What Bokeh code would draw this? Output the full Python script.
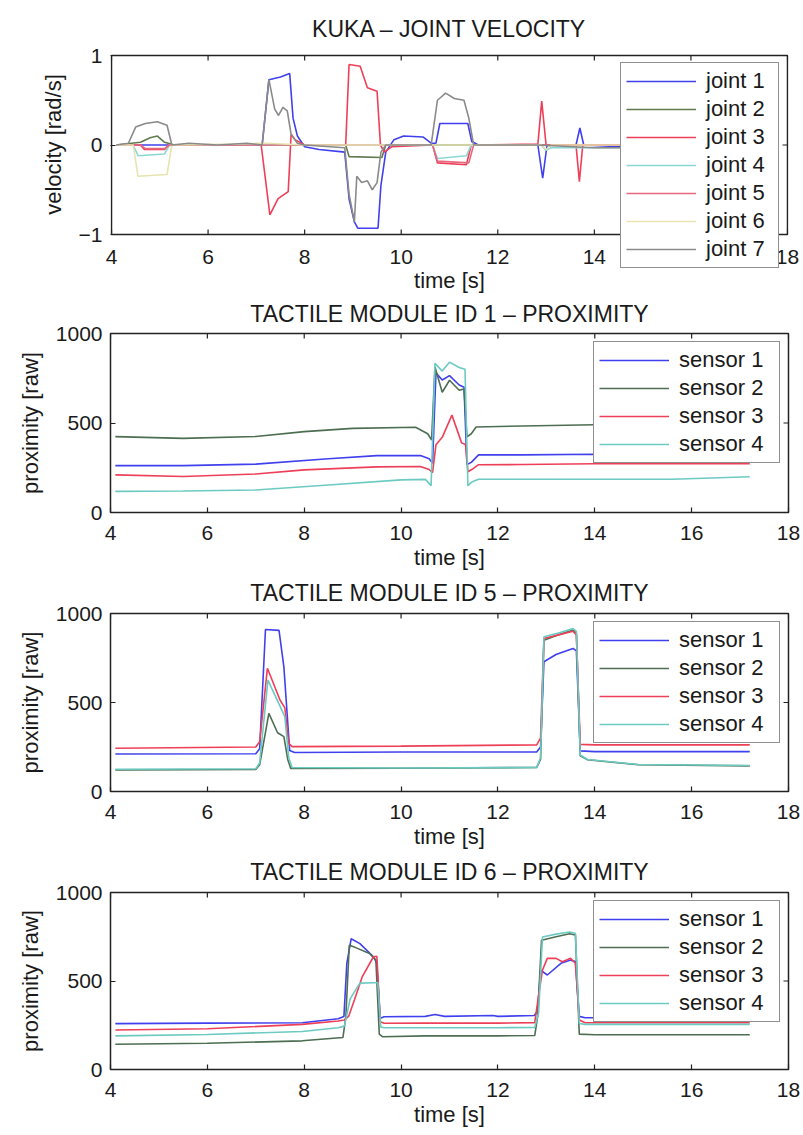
from bokeh.plotting import figure
from bokeh.models import Legend, LegendItem, FixedTicker, CustomJSTickFormatter, Range1d
from bokeh.core.properties import value
from bokeh.layouts import column
from bokeh.embed import file_html
from bokeh.resources import INLINE

# ---------------- data ----------------
# KUKA joint velocity [rad/s]
j1_t = [4.10, 7.12, 7.26, 7.50, 7.69, 7.76, 7.85, 8.00, 8.30, 8.83, 8.92, 9.03, 9.10, 9.52, 9.58, 9.68, 9.85, 10.05, 10.45, 10.62, 10.72, 10.80, 11.38, 11.46, 11.60, 12.83, 12.93, 13.02, 13.62, 13.70, 13.78, 14.50, 17.20]
j1_v = [0.00, 0.00, 0.73, 0.76, 0.80, 0.30, 0.10, -0.02, -0.05, -0.08, -0.60, -0.86, -0.93, -0.93, -0.45, -0.08, 0.06, 0.10, 0.09, 0.02, 0.02, 0.24, 0.24, 0.04, 0.00, 0.00, -0.37, 0.00, 0.00, 0.19, 0.00, -0.02, -0.02]
j2_t = [4.10, 4.60, 4.80, 4.95, 5.10, 5.30, 8.85, 8.92, 9.60, 9.68, 17.20]
j2_v = [0.00, 0.03, 0.08, 0.10, 0.03, 0.00, 0.00, -0.13, -0.14, 0.00, 0.00]
j3_t = [4.10, 4.60, 4.68, 5.10, 5.18, 7.10, 7.28, 7.45, 7.66, 7.72, 7.80, 8.00, 8.85, 8.92, 9.15, 9.30, 9.50, 9.57, 9.65, 9.80, 10.65, 10.75, 11.35, 11.45, 12.83, 12.91, 13.00, 13.62, 13.69, 13.76, 17.20]
j3_v = [0.00, 0.00, -0.05, -0.05, 0.00, 0.00, -0.78, -0.60, -0.52, 0.12, 0.06, 0.00, 0.00, 0.90, 0.88, 0.64, 0.60, 0.00, -0.08, -0.02, 0.00, -0.20, -0.22, 0.00, 0.01, 0.49, 0.00, 0.00, -0.41, 0.00, 0.00]
j4_t = [4.10, 4.45, 4.55, 5.10, 5.20, 10.65, 10.75, 11.35, 11.45, 12.90, 13.00, 13.10, 17.20]
j4_v = [0.00, 0.00, -0.12, -0.10, 0.00, 0.00, -0.15, -0.12, 0.00, 0.00, -0.06, -0.03, -0.03]
j5_t = [4.10, 4.60, 4.70, 5.10, 5.20, 10.65, 10.75, 11.40, 11.50, 17.20]
j5_v = [0.00, 0.00, -0.04, -0.04, 0.00, 0.00, -0.18, -0.20, 0.00, 0.00]
j6_t = [4.10, 4.45, 4.55, 5.15, 5.25, 6.50, 7.20, 8.00, 12.90, 13.00, 13.10, 17.20]
j6_v = [0.00, 0.00, -0.35, -0.33, 0.00, 0.01, 0.02, 0.00, 0.00, -0.05, 0.00, 0.00]
j7_t = [4.10, 4.35, 4.50, 4.70, 4.95, 5.15, 5.25, 5.60, 6.20, 6.80, 7.12, 7.26, 7.38, 7.46, 7.55, 7.64, 7.72, 7.85, 8.00, 8.83, 8.92, 9.03, 9.08, 9.18, 9.30, 9.40, 9.50, 9.58, 9.68, 10.62, 10.75, 10.92, 11.10, 11.30, 11.40, 11.50, 12.80, 14.00, 17.20]
j7_v = [0.00, 0.02, 0.20, 0.24, 0.26, 0.22, 0.00, 0.02, 0.00, 0.02, 0.00, 0.73, 0.40, 0.33, 0.42, 0.38, 0.12, 0.02, 0.00, -0.03, -0.55, -0.86, -0.35, -0.42, -0.40, -0.50, -0.42, -0.08, 0.00, 0.00, 0.50, 0.58, 0.52, 0.50, 0.30, 0.00, 0.00, -0.03, -0.03]

# Tactile module ID 1 - proximity [raw]
m1_s1_t = [4.10, 5.50, 7.00, 8.50, 9.50, 10.40, 10.58, 10.65, 10.72, 10.85, 11.00, 11.20, 11.30, 11.36, 11.45, 11.60, 12.50, 14.00, 17.20]
m1_s1_v = [262, 262, 270, 300, 318, 318, 300, 275, 780, 740, 765, 712, 700, 268, 280, 322, 322, 325, 325]
m1_s2_t = [4.10, 5.50, 7.00, 8.00, 9.00, 10.30, 10.55, 10.63, 10.70, 10.85, 11.00, 11.20, 11.30, 11.36, 11.45, 11.55, 12.50, 14.00, 17.20]
m1_s2_v = [424, 414, 425, 452, 470, 476, 440, 405, 813, 672, 739, 683, 690, 422, 440, 478, 483, 490, 495]
m1_s3_t = [4.10, 5.50, 7.00, 8.00, 9.50, 10.40, 10.58, 10.65, 10.72, 10.85, 11.05, 11.25, 11.33, 11.38, 11.46, 11.60, 12.50, 14.00, 17.20]
m1_s3_v = [210, 201, 215, 238, 255, 257, 240, 222, 378, 420, 544, 389, 380, 228, 240, 267, 268, 272, 272]
m1_s4_t = [4.10, 5.50, 7.00, 8.50, 10.00, 10.50, 10.62, 10.70, 10.85, 11.00, 11.20, 11.32, 11.38, 11.46, 11.60, 14.00, 15.60, 17.20]
m1_s4_v = [118, 120, 126, 154, 182, 185, 150, 833, 790, 840, 810, 800, 150, 170, 186, 186, 186, 200]

# Tactile module ID 5 - proximity [raw]
m5_s1_t = [4.10, 7.00, 7.08, 7.20, 7.48, 7.58, 7.70, 7.80, 10.00, 12.80, 12.88, 12.95, 13.20, 13.55, 13.62, 13.70, 14.00, 17.20]
m5_s1_v = [211, 212, 240, 910, 905, 700, 230, 219, 222, 222, 250, 729, 770, 804, 790, 228, 224, 224]
m5_s2_t = [4.10, 7.00, 7.08, 7.27, 7.45, 7.58, 7.66, 7.72, 10.00, 12.80, 12.88, 12.95, 13.25, 13.55, 13.62, 13.70, 13.85, 14.90, 17.20]
m5_s2_v = [121, 124, 150, 439, 330, 308, 180, 130, 131, 135, 180, 850, 880, 907, 890, 200, 178, 150, 144]
m5_s3_t = [4.10, 7.00, 7.08, 7.24, 7.50, 7.60, 7.68, 7.75, 10.00, 12.80, 12.88, 12.95, 13.25, 13.55, 13.62, 13.70, 14.00, 17.20]
m5_s3_v = [243, 250, 280, 692, 514, 470, 270, 252, 255, 262, 300, 860, 880, 900, 880, 265, 262, 262]
m5_s4_t = [4.10, 7.00, 7.08, 7.25, 7.50, 7.60, 7.68, 7.75, 10.00, 12.80, 12.88, 12.95, 13.25, 13.55, 13.62, 13.70, 13.85, 14.90, 17.20]
m5_s4_v = [125, 128, 160, 626, 480, 420, 190, 135, 132, 135, 190, 869, 890, 915, 900, 205, 180, 152, 146]

# Tactile module ID 6 - proximity [raw]
m6_s1_t = [4.10, 6.00, 7.96, 8.70, 8.82, 8.88, 8.97, 9.15, 9.43, 9.50, 9.57, 9.65, 10.50, 10.70, 10.90, 11.90, 12.00, 12.75, 12.82, 12.88, 13.02, 13.30, 13.50, 13.60, 13.68, 13.80, 17.20]
m6_s1_v = [259, 262, 264, 287, 300, 600, 739, 711, 637, 600, 290, 298, 300, 311, 300, 305, 300, 305, 330, 562, 534, 600, 618, 610, 300, 292, 292]
m6_s2_t = [4.10, 6.00, 7.96, 8.80, 8.86, 8.93, 9.05, 9.35, 9.48, 9.55, 9.62, 10.50, 12.00, 12.76, 12.82, 12.90, 13.20, 13.48, 13.60, 13.68, 14.00, 17.20]
m6_s2_v = [143, 148, 162, 181, 300, 702, 690, 655, 618, 200, 185, 190, 190, 192, 300, 730, 750, 767, 760, 200, 196, 196]
m6_s3_t = [4.10, 6.00, 7.96, 8.70, 8.83, 8.92, 9.04, 9.20, 9.43, 9.50, 9.57, 9.65, 10.50, 12.00, 12.76, 12.84, 12.92, 13.02, 13.20, 13.33, 13.50, 13.60, 13.68, 13.80, 17.20]
m6_s3_v = [223, 230, 255, 274, 280, 302, 395, 525, 637, 640, 270, 261, 262, 262, 265, 420, 562, 628, 628, 609, 628, 600, 280, 264, 264]
m6_s4_t = [4.10, 6.00, 7.96, 8.70, 8.83, 8.95, 9.15, 9.43, 9.52, 9.58, 9.65, 10.50, 12.00, 12.76, 12.84, 12.92, 13.20, 13.48, 13.60, 13.68, 13.80, 17.20]
m6_s4_v = [190, 198, 215, 236, 245, 400, 488, 490, 490, 240, 236, 236, 236, 238, 320, 749, 765, 777, 770, 260, 255, 255]

x_lim = [4, 18]
vel_lim = [-1, 1]
prox_lim = [0, 1000]
x_ticks = [4, 6, 8, 10, 12, 14, 16, 18]
vel_ticks = [-1, 0, 1]
prox_ticks = [0, 500, 1000]

joint_labels = ["joint 1", "joint 2", "joint 3", "joint 4", "joint 5", "joint 6", "joint 7"]
sensor_labels = ["sensor 1", "sensor 2", "sensor 3", "sensor 4"]

joint_colors = ["#4040ee", "#5f7a4c", "#ee3f58", "#8ad8d4", "#e8687e", "#e6e4b0", "#8a8a8a"]
sensor_colors = ["#4040ee", "#4d6e52", "#ee3f58", "#6ccac2"]

FONT = "Liberation Sans"
TXT = "#1a1a1a"
FRAME = "#222222"
TICK_PX = 5
W = 803
BL, BR = 110, 15               # left / right borders -> frame 110..788
FW = W - BL - BR


def style_fig(p):
    p.xgrid.visible = False
    p.ygrid.visible = False
    p.background_fill_color = "white"
    p.border_fill_color = "white"
    for ax in p.axis:
        ax.major_tick_in = TICK_PX
        ax.major_tick_out = 0
        ax.minor_tick_line_color = None
        ax.major_tick_line_color = FRAME
        ax.major_tick_line_width = 1.2
        ax.axis_line_color = None
        ax.major_label_text_font = FONT
        ax.major_label_text_color = TXT
        ax.major_label_text_font_size = "21px"
        ax.axis_label_text_font = FONT
        ax.axis_label_text_font_style = "normal"
        ax.axis_label_text_color = TXT
        ax.axis_label_text_font_size = "22px"


def tick_marks(p, ylim, yticks, fw, fh, sides):
    ty = TICK_PX * (ylim[1] - ylim[0]) / fh
    tx = TICK_PX * (x_lim[1] - x_lim[0]) / fw
    n = len(x_ticks)
    m = len(yticks)
    kw = dict(line_color=FRAME, line_width=1.2)
    if "top" in sides:
        p.segment(x0=x_ticks, y0=[ylim[1]] * n, x1=x_ticks, y1=[ylim[1] - ty] * n, **kw)
    if "bottom" in sides:
        p.segment(x0=x_ticks, y0=[ylim[0]] * n, x1=x_ticks, y1=[ylim[0] + ty] * n, **kw)
    if "right" in sides:
        p.segment(x0=[x_lim[1]] * m, y0=yticks, x1=[x_lim[1] - tx] * m, y1=yticks, **kw)


def add_lines(p, series, colors, labels, loc, label_width):
    items = []
    for (t, v), c, lab in zip(series, colors, labels):
        r = p.line(t, v, line_color=c, line_width=1.6)
        items.append(LegendItem(label=lab, renderers=[r]))
    leg = Legend(items=items, location=loc, margin=0, padding=5, spacing=2,
                 glyph_width=70, glyph_height=20, label_standoff=10,
                 label_width=label_width,
                 label_text_font=FONT, label_text_font_size="22px",
                 label_text_color=TXT,
                 border_line_color=FRAME, border_line_width=1.2,
                 background_fill_color="white", background_fill_alpha=1.0)
    p.add_layout(leg)


def prox_fig(title, height, top, bottom, standoff):
    fh = height - top - bottom
    p = figure(width=W, height=height, output_backend="svg", toolbar_location=None,
               x_range=Range1d(*x_lim), y_range=Range1d(*prox_lim),
               min_border_left=BL, min_border_right=BR,
               min_border_top=top, min_border_bottom=bottom)
    p.title.text = title
    p.title.align = "center"
    p.title.vertical_align = "top"
    p.title.text_font = FONT
    p.title.text_font_size = "23px"
    p.title.text_font_style = "normal"
    p.title.text_color = TXT
    p.title.standoff = standoff
    p.outline_line_color = FRAME
    p.outline_line_width = 1.5
    style_fig(p)
    p.xaxis.ticker = FixedTicker(ticks=x_ticks)
    p.yaxis.ticker = FixedTicker(ticks=prox_ticks)
    p.xaxis.axis_label = "time [s]"
    p.xaxis.major_label_standoff = 13
    p.xaxis.axis_label_standoff = 2
    p.yaxis.axis_label = "proximity [raw]"
    p.yaxis.major_label_standoff = 8
    p.yaxis.axis_label_standoff = 10
    tick_marks(p, prox_lim, prox_ticks, FW, fh, ("top", "right"))
    return p


# ---------- plot 1: frame taller than the axes box so the legend may overhang it ----------
H1 = 296
F_TOP, F_BOT = 19, 269          # frame rows (px); the drawn axes box spans 55..234
BOX_TOP, BOX_BOT = 55, 234
ppy = (BOX_BOT - BOX_TOP) / (vel_lim[1] - vel_lim[0])
ex = 1.0 * (x_lim[1] - x_lim[0]) / FW      # one pixel of slack so the box edge is not clipped
x1r = Range1d(x_lim[0] - ex, x_lim[1] + ex)
y1r = Range1d(vel_lim[0] - (F_BOT - BOX_BOT) / ppy, vel_lim[1] + (BOX_TOP - F_TOP) / ppy)

p1 = figure(width=W, height=H1, output_backend="svg", toolbar_location=None,
            x_range=x1r, y_range=y1r,
            min_border_left=BL, min_border_right=BR,
            min_border_top=F_TOP, min_border_bottom=H1 - F_BOT)
p1.outline_line_color = None
style_fig(p1)
p1.xaxis.ticker = FixedTicker(ticks=x_ticks)
p1.xaxis.major_tick_line_color = None
p1.xaxis.major_label_standoff = -(F_BOT - BOX_BOT) + 15
p1.xaxis.axis_label = "time [s]"
p1.xaxis.axis_label_standoff = 1
p1.yaxis.ticker = FixedTicker(ticks=vel_ticks)
p1.yaxis.formatter = CustomJSTickFormatter(
    code="return tick < 0 ? '\\u2212' + (-tick) : '' + tick;")
p1.yaxis.axis_label = "velocity [rad/s]"
p1.yaxis.major_label_standoff = 8
p1.yaxis.axis_label_standoff = 10

p1.quad(left=[x_lim[0]], right=[x_lim[1]], bottom=[vel_lim[0]], top=[vel_lim[1]],
        fill_color=None, line_color=FRAME, line_width=1.5)
tick_marks(p1, vel_lim, vel_ticks, FW, BOX_BOT - BOX_TOP, ("top", "bottom", "right"))
p1.text(x=[(x_lim[0] + x_lim[1]) / 2], y=[vel_lim[1]], text=["KUKA \u2013 JOINT VELOCITY"],
        text_align="center", text_baseline="middle", y_offset=-27,
        text_font=value(FONT), text_font_size=value("23px"), text_color=TXT)
add_lines(p1, [(j1_t, j1_v), (j2_t, j2_v), (j3_t, j3_v), (j4_t, j4_v),
               (j5_t, j5_v), (j6_t, j6_v), (j7_t, j7_v)],
          joint_colors, joint_labels, (620 - BL, F_BOT - 268), 67)

p2 = prox_fig("TACTILE MODULE ID 1 \u2013 PROXIMITY", 276, 37, 59, 9)
add_lines(p2, [(m1_s1_t, m1_s1_v), (m1_s2_t, m1_s2_v), (m1_s3_t, m1_s3_v),
               (m1_s4_t, m1_s4_v)], sensor_colors, sensor_labels, (483, 49), 95)

p3 = prox_fig("TACTILE MODULE ID 5 \u2013 PROXIMITY", 279, 41, 59, 11)
add_lines(p3, [(m5_s1_t, m5_s1_v), (m5_s2_t, m5_s2_v), (m5_s3_t, m5_s3_v),
               (m5_s4_t, m5_s4_v)], sensor_colors, sensor_labels, (483, 48), 95)

p4 = prox_fig("TACTILE MODULE ID 6 \u2013 PROXIMITY", 278, 41, 59, 11)
add_lines(p4, [(m6_s1_t, m6_s1_v), (m6_s2_t, m6_s2_v), (m6_s3_t, m6_s3_v),
               (m6_s4_t, m6_s4_v)], sensor_colors, sensor_labels, (483, 47), 95)

layout = column(p1, p2, p3, p4, spacing=0)
open("out.html", "w").write(file_html(layout, INLINE))
